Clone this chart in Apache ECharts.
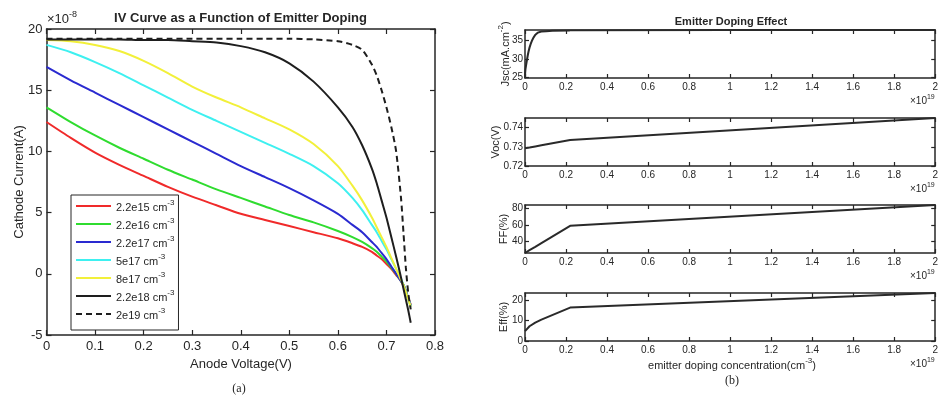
<!DOCTYPE html>
<html><head><meta charset="utf-8">
<script src="https://cdn.jsdelivr.net/npm/echarts@6/dist/echarts.min.js"></script>
<style>html,body{margin:0;padding:0;background:#fff}#c{width:941px;height:396px}</style>
</head><body><div id="c"></div>
<script>
// ---------- data: IV curves (current in units of 1e-8 A) ----------
const voltage = [0,0.05,0.1,0.15,0.2,0.25,0.3,0.35,0.4,0.45,0.5,0.55,0.6,0.63,0.65,0.67,0.68,0.69,0.7,0.71,0.72,0.73,0.735,0.74,0.745,0.75];
const cur_2_2e15 = [12.4,11.1,9.9,8.9,8.0,7.1,6.3,5.6,4.9,4.4,3.9,3.4,2.9,2.5,2.2,1.8,1.5,1.2,0.8,0.4,-0.1,-0.6,-1.0,-1.5,-2.0,-2.5];
const cur_2_2e16 = [13.6,12.4,11.3,10.3,9.4,8.5,7.7,6.9,6.2,5.5,4.8,4.2,3.5,3.0,2.6,2.1,1.8,1.4,1.0,0.5,0.0,-0.6,-0.9,-1.4,-2.0,-2.6];
const cur_2_2e17 = [16.9,15.8,14.8,13.8,12.8,11.8,10.8,9.8,8.8,7.9,7.0,6.0,4.9,4.0,3.4,2.6,2.2,1.7,1.2,0.6,0.0,-0.6,-0.9,-1.4,-2.0,-2.6];
const cur_5e17 = [18.7,18.1,17.3,16.4,15.4,14.4,13.4,12.5,11.6,10.7,9.8,8.8,7.4,6.2,5.2,4.0,3.4,2.7,2.0,1.2,0.4,-0.4,-0.9,-1.5,-2.1,-2.7];
const cur_8e17 = [19.1,19.0,18.7,18.2,17.4,16.4,15.3,14.4,13.6,12.7,11.8,10.6,8.8,7.2,6.0,4.6,3.8,3.0,2.2,1.3,0.4,-0.5,-0.9,-1.5,-2.1,-2.7];
const cur_2_2e18 = [19.15,19.15,19.15,19.15,19.1,19.1,19.0,18.9,18.6,18.1,17.2,15.7,13.6,12.0,10.5,8.6,7.4,6.0,4.6,3.0,1.4,-0.3,-1.2,-2.1,-3.0,-4.0];
const cur_2e19 = [19.2,19.2,19.2,19.2,19.2,19.2,19.2,19.2,19.2,19.2,19.2,19.15,19.0,18.7,18.3,17.1,16.2,15.0,13.6,12.0,10.0,6.2,3.4,0.5,-1.6,-2.9];
const legendLabels = ['2.2e15','2.2e16','2.2e17','5e17','8e17','2.2e18','2e19'];
const ivCurves = [cur_2_2e15,cur_2_2e16,cur_2_2e17,cur_5e17,cur_8e17,cur_2_2e18,cur_2e19];
const ivColors = ['#f02a2a','#2fdc2f','#2a2ad0','#3ef0f0','#f2f03a','#1e1e1e','#1e1e1e'];
const voltTicks = [0,0.1,0.2,0.3,0.4,0.5,0.6,0.7,0.8];
const currTicks = [-5,0,5,10,15,20];

// ---------- data: emitter doping effect (doping in units of 1e19 cm^-3) ----------
const doping = [0.00022,0.0022,0.022,0.05,0.08,0.22,2.0];
const jsc = [24.9,27.2,33.0,36.4,37.3,37.6,37.7];
const voc = [0.7292,0.7292,0.7296,0.7302,0.7308,0.7335,0.7450];
const ff = [25.8,26.6,29.3,33.3,37.9,59.0,84.5];
const eff = [4.8,5.2,7.2,9.0,10.4,16.3,23.4];
const jscTicks = [25,30,35];
const vocTicks = [0.72,0.73,0.74];
const ffTicks = [40,60,80];
const effTicks = [0,10,20];
const dopTicks = [0,0.2,0.4,0.6,0.8,1,1.2,1.4,1.6,1.8,2];

const AX = '#262626';
const FONT = 'Liberation Sans, Arial, sans-serif';

const grids = [
  {left:46.5, top:29, width:388.5, height:306},
  {left:525, top:30, width:412, height:48},
  {left:525, top:118, width:412, height:48},
  {left:525, top:205, width:412, height:48},
  {left:525, top:293, width:412, height:48}
];

const xAxes = [], yAxes = [];
function addX(grid, min, max, ticks, fs, tickLen, margin, fmt) {
  ['bottom','top'].forEach((pos, k) => {
    xAxes.push({
      type:'value', gridIndex:grid, position:pos, min:min, max:max,
      axisLine:{show:true, onZero:false, lineStyle:{color:AX, width:1.5}},
      axisTick:{show:true, inside:true, length:tickLen, customValues:ticks, lineStyle:{color:AX, width:1.2}},
      axisLabel:{show:k===0, customValues:ticks, fontSize:fs, fontFamily:FONT, color:AX, margin:margin, formatter:fmt,
                 showMinLabel:true, showMaxLabel:true},
      splitLine:{show:false}
    });
  });
}
function addY(grid, min, max, ticks, fs, tickLen, margin, fmt) {
  ['left','right'].forEach((pos, k) => {
    yAxes.push({
      type:'value', gridIndex:grid, position:pos, min:min, max:max,
      axisLine:{show:true, onZero:false, lineStyle:{color:AX, width:1.5}},
      axisTick:{show:true, inside:true, length:tickLen, customValues:ticks, lineStyle:{color:AX, width:1.2}},
      axisLabel:{show:k===0, customValues:ticks, fontSize:fs, fontFamily:FONT, color:AX, margin:margin, formatter:fmt,
                 showMinLabel:true, showMaxLabel:true},
      splitLine:{show:false}
    });
  });
}
const numFmt = v => String(+(+v).toFixed(3));
addX(0, 0, 0.8, voltTicks, 13, 5, 5, numFmt);
addY(0, -5, 20, currTicks, 13, 5, 4, numFmt);
const rightY = [[24.9,37.7,jscTicks,v=>String(v)],[0.72,0.745,vocTicks,v=>(+v).toFixed(2)],[25.8,84.5,ffTicks,v=>String(v)],[0,23.4,effTicks,v=>String(v)]];
rightY.forEach((r,i) => {
  addX(i+1, 0, 2, dopTicks, 10, 4, 4, numFmt);
  addY(i+1, r[0], r[1], r[2], 10, 4, 2, r[3]);
});

const series = [];
ivCurves.forEach((c, i) => {
  series.push({
    name: legendLabels[i] + ' cm-3', type:'line', xAxisIndex:0, yAxisIndex:0,
    data: voltage.map((v, j) => [v, c[j]]),
    showSymbol:false, symbol:'none', smooth:0.25,
    lineStyle:{color:ivColors[i], width:2, type: i===6 ? [6,4] : 'solid'},
    itemStyle:{color:ivColors[i]}, z: 3 + i
  });
});
[jsc, voc, ff, eff].forEach((d, i) => {
  series.push({
    type:'line', xAxisIndex:2*(i+1), yAxisIndex:2*(i+1),
    data: doping.map((x, j) => [x, d[j]]),
    showSymbol:false, symbol:'none', smooth: i===0 ? 0.3 : false,
    lineStyle:{color:'#2a2a2a', width:2}
  });
});

const supRich = (fs, sfs, lh) => ({
  n:{fontSize:fs, fontFamily:FONT, fill:AX, color:AX, lineHeight:lh, verticalAlign:'bottom'},
  s:{fontSize:sfs, fontFamily:FONT, fill:AX, color:AX, lineHeight:sfs, verticalAlign:'top'}
});
function txt(x, y, text, opts) {
  opts = opts || {};
  return {
    type:'text', x:x, y:y, rotation: opts.rot || 0, z:100,
    style:{
      text:text, fontSize:opts.fs || 13, fontFamily:opts.ff || FONT, fontWeight:opts.fw || 'normal',
      fill:AX, align:opts.align || 'center', textAlign:opts.align || 'center',
      verticalAlign:'middle', textVerticalAlign:'middle', rich: opts.rich
    }
  };
}

const graphic = [
  txt(240.5, 18, 'IV Curve as a Function of Emitter Doping', {fs:13, fw:'bold'}),
  txt(47, 18, '{n|×10}{s|-8}', {align:'left', rich:supRich(13, 9, 16)}),
  txt(19, 182, 'Cathode Current(A)', {fs:13, rot:Math.PI/2}),
  txt(241, 364, 'Anode Voltage(V)', {fs:13}),
  txt(239, 389, '(a)', {fs:12, ff:'Liberation Serif, serif'}),
  txt(731, 22, 'Emitter Doping Effect', {fs:11, fw:'bold'}),
  txt(504, 54, '{n|Jsc(mA.cm}{s|-2}{n|)}', {rot:Math.PI/2, rich:supRich(11, 8, 14)}),
  txt(496, 142, 'Voc(V)', {fs:11, rot:Math.PI/2}),
  txt(504, 229, 'FF(%)', {fs:11, rot:Math.PI/2}),
  txt(504, 317, 'Eff(%)', {fs:11, rot:Math.PI/2}),
  txt(732, 364, '{n|emitter doping concentration(cm}{s|-3}{n|)}', {rich:supRich(11, 8, 14)}),
  txt(732, 381, '(b)', {fs:12, ff:'Liberation Serif, serif'})
];
grids.slice(1).forEach(g => {
  graphic.push(txt(910, g.top + g.height + 22, '{n|×10}{s|19}', {align:'left', rich:supRich(10, 7, 13)}));
});

const chart = echarts.init(document.getElementById('c'), null, {renderer:'canvas'});
chart.setOption({
  animation:false,
  backgroundColor:'#fff',
  grid: grids,
  xAxis: xAxes,
  yAxis: yAxes,
  legend: {
    show:true, left:71, top:195, orient:'vertical',
    data: series.slice(0,7).map(s => s.name),
    itemWidth:35, itemHeight:10, itemGap:4,
    padding:[4,4,9,4],
    backgroundColor:'#fff', borderColor:'#262626', borderWidth:1,
    itemStyle:{opacity:0},
    formatter: name => '{n|' + name.replace(' cm-3', ' cm') + '}{s|-3}',
    textStyle:{
      fontFamily:FONT, fontSize:11, color:AX,
      rich:{
        n:{fontSize:11, fontFamily:FONT, color:AX, lineHeight:14, verticalAlign:'bottom'},
        s:{fontSize:8, fontFamily:FONT, color:AX, lineHeight:8, verticalAlign:'top'}
      }
    }
  },
  graphic: graphic,
  series: series
});
</script></body></html>
